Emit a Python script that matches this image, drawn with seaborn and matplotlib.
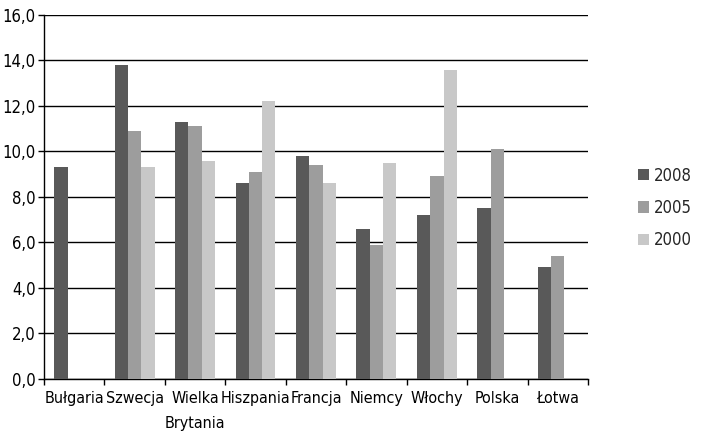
import numpy as np
import pandas as pd
import matplotlib
matplotlib.use("Agg")
import matplotlib.pyplot as plt
from matplotlib.ticker import FixedLocator, FuncFormatter
import seaborn as sns

countries = ["Bułgaria", "Szwecja", "Wielka\nBrytania", "Hiszpania", "Francja",
             "Niemcy", "Włochy", "Polska", "Łotwa"]
years = ["2008", "2005", "2000"]
v2008 = [9.3, 13.8, 11.3, 8.6, 9.8, 6.6, 7.2, 7.5, 4.9]
v2005 = [np.nan, 10.9, 11.1, 9.1, 9.4, 5.9, 8.9, 10.1, 5.4]
v2000 = [np.nan, 9.3, 9.6, 12.2, 8.6, 9.5, 13.6, np.nan, np.nan]
colors = ["#595959", "#9d9d9d", "#c8c8c8"]

df = pd.DataFrame({
    "kraj": countries * 3,
    "rok": sum([[y] * len(countries) for y in years], []),
    "wartosc": v2008 + v2005 + v2000,
}).dropna()

sns.set_theme(style="white")
plt.rcParams["font.family"] = ["DejaVu Sans"]
plt.rcParams["font.stretch"] = "condensed"

fig = plt.figure(figsize=(7.17, 4.36), dpi=100)
ax = fig.add_axes([0.0614, 0.131, 0.7586, 0.8346])

sns.barplot(data=df, x="kraj", y="wartosc", hue="rok", order=countries,
            hue_order=years, palette=colors, width=0.66, saturation=1,
            errorbar=None, linewidth=0, ax=ax, zorder=3)

ax.set_xlim(-0.5, len(countries) - 0.5)
ax.set_ylim(0, 16)
ax.set_yticks(np.arange(0, 16.1, 2))
ax.yaxis.set_major_formatter(FuncFormatter(lambda v, p: f"{v:.1f}".replace(".", ",")))
ax.grid(axis="y", color="black", linewidth=1.0, zorder=0)
ax.set_axisbelow(True)

for s in ["top", "right"]:
    ax.spines[s].set_visible(False)
for s in ["left", "bottom"]:
    ax.spines[s].set_color("black")
    ax.spines[s].set_linewidth(1.0)

ax.set_xlabel("")
ax.set_ylabel("")
ax.tick_params(axis="x", which="major", length=0, labelsize=11.5, pad=9, colors="black")
for lbl in ax.get_xticklabels():
    lbl.set_linespacing(1.8)
ax.xaxis.set_minor_locator(FixedLocator(np.arange(-0.5, len(countries), 1)))
ax.tick_params(axis="x", which="minor", length=4, width=1, color="black", bottom=True)
ax.tick_params(axis="y", which="major", length=4, width=1, color="black",
               labelsize=12, left=True, pad=2, labelcolor="black")

handles, labels = ax.get_legend_handles_labels()
ax.legend(handles, labels, loc="center left", bbox_to_anchor=(1.065, 0.47),
          frameon=False, fontsize=12, handlelength=0.65, handleheight=0.65,
          handletextpad=0.3, labelspacing=0.85)

fig.savefig("out.png", dpi=100)
